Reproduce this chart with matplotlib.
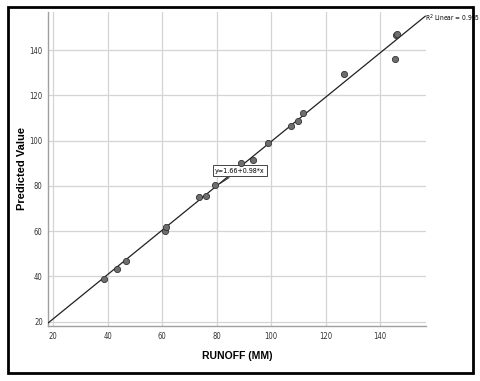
import numpy as np
import matplotlib
matplotlib.use("Agg")
import matplotlib.pyplot as plt
from matplotlib.patches import Rectangle

runoff = [38.6, 43.5, 46.6, 61.0, 61.5, 73.6, 75.9, 79.4, 88.8, 93.2,
          98.7, 107.2, 109.8, 111.6, 126.8, 145.5, 145.9, 146.2]
predicted = [38.9, 43.3, 46.8, 60.2, 61.7, 75.0, 75.7, 80.3, 90.3, 91.5,
             99.1, 106.5, 108.6, 112.4, 129.5, 136.3, 146.9, 147.1]
intercept = 1.66
slope = 0.98
r2_text = "R$^2$ Linear = 0.995"
ticks = [20, 40, 60, 80, 100, 120, 140]

fig = plt.figure(figsize=(4.8, 3.81), dpi=100)
fig.patches.append(Rectangle((8/480, 1-373/381), 465/480, 366/381,
                             transform=fig.transFigure, fill=False,
                             edgecolor="black", linewidth=2))

ax = fig.add_axes([0.1006, 0.1444, 0.7869, 0.8241])
xlo, xhi = 18.2, 156.8
ax.set_xlim(xlo, xhi)
ax.set_ylim(18.1, 156.9)

ax.grid(True, color="#d4d4d4", linewidth=0.9)
ax.set_axisbelow(True)
for s in ["top", "right"]:
    ax.spines[s].set_visible(False)
for s in ["left", "bottom"]:
    ax.spines[s].set_color("#a0a0a0")
    ax.spines[s].set_linewidth(1.0)

ax.set_xticks(ticks)
ax.set_yticks(ticks)
ax.tick_params(length=0, labelsize=5.5, labelcolor="#333333", pad=4)
for lab in ax.get_xticklabels() + ax.get_yticklabels():
    lab.set_fontstretch("condensed")

xs = np.array([xlo, 156.5])
ax.plot(xs, intercept + slope * xs, color="#202020", linewidth=0.9, zorder=3)
ax.scatter(runoff, predicted, s=20, color="#6e6e6e", edgecolor="#333333",
           linewidth=0.6, zorder=4)

ax.text(156.6, 154.3, r2_text, fontsize=4.8, ha="left", va="center",
        fontstretch="condensed", clip_on=False)
ax.annotate("y=1.66+0.98*x", xy=(80.5, intercept + slope * 80.5),
            xytext=(79.4, 86.8), fontsize=5.1, ha="left", va="center",
            fontstretch="condensed",
            bbox=dict(boxstyle="square,pad=0.3", fc="white", ec="#444444", lw=0.7),
            arrowprops=dict(arrowstyle="-", color="#333333", lw=0.8))

ax.set_xlabel("RUNOFF (MM)", fontsize=7.5, fontweight="bold", family="Liberation Sans")
ax.set_ylabel("Predicted Value", fontsize=8, fontweight="bold", family="Liberation Sans")
ax.xaxis.set_label_coords(0.5, -0.08)
ax.yaxis.set_label_coords(-0.056, 0.5)

fig.savefig("out.png", dpi=100)
